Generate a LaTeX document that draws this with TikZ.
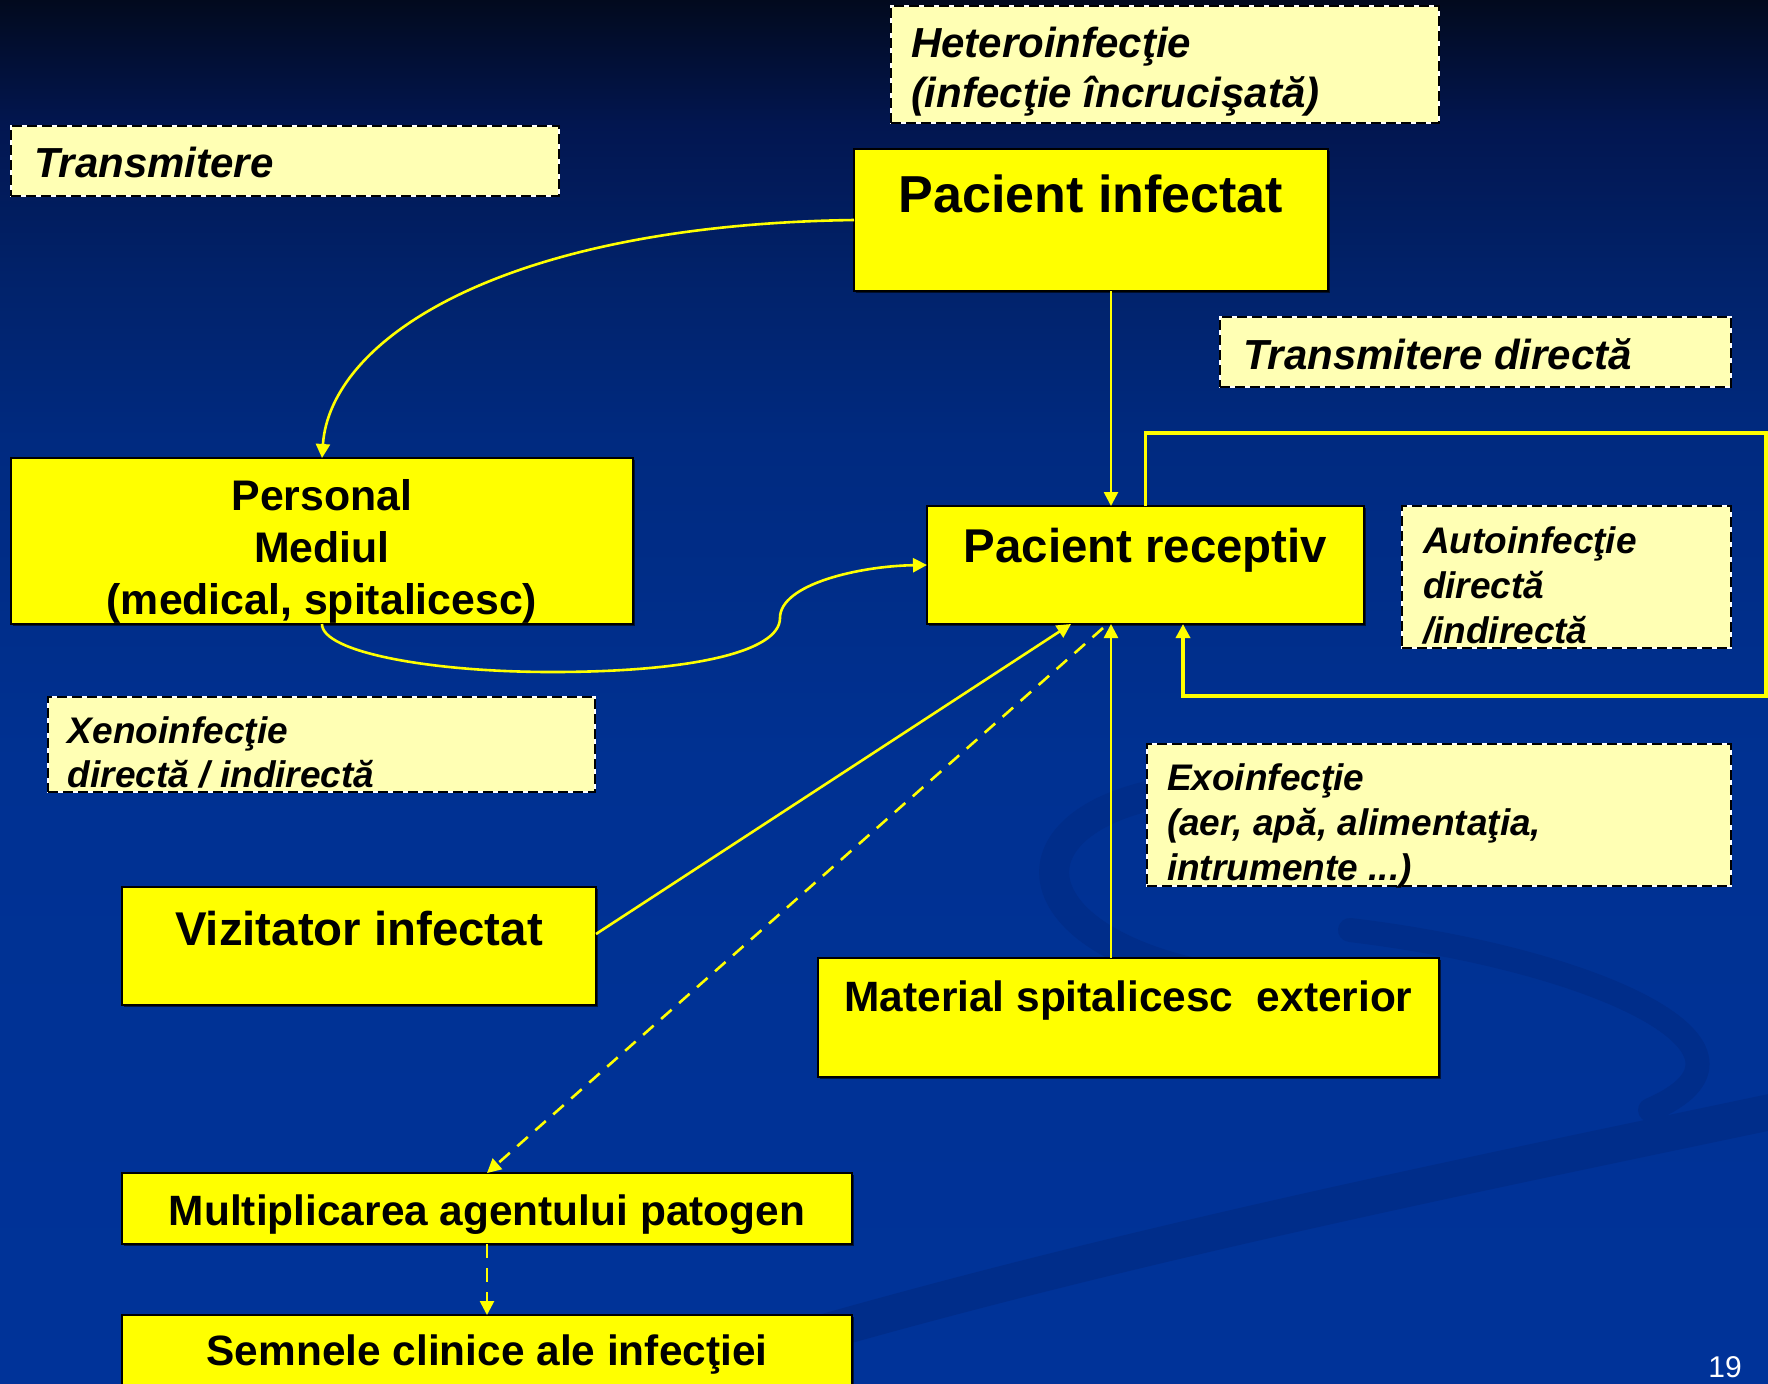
\documentclass[tikz,border=0pt]{standalone}
\usepackage{fontspec}
\setmainfont{Liberation Sans}
\usetikzlibrary{arrows.meta,shadows,calc}
\definecolor{yel}{HTML}{FFFF00}
\definecolor{paleyel}{HTML}{FFFFB4}
\definecolor{bgA}{HTML}{003399}
\definecolor{bgB}{HTML}{003192}
\definecolor{bgC}{HTML}{002A80}
\definecolor{bgD}{HTML}{01226A}
\definecolor{bgE}{HTML}{021650}
\definecolor{bgF}{HTML}{020A1E}
\definecolor{swirlc}{HTML}{002D8A}
% path bounding box maps onto 25bp..75bp of the declared shading
\pgfdeclareverticalshading{bgshade}{100bp}{color(0bp)=(bgA); color(25bp)=(bgA); color(47.5bp)=(bgB); color(59bp)=(bgC); color(65bp)=(bgD); color(70.5bp)=(bgE); color(75bp)=(bgF); color(100bp)=(bgF)}
\newcommand\lefttab[1]{\begin{tabular}[t]{@{}l@{}}#1\end{tabular}}
\newcommand\centtab[1]{\begin{tabular}[t]{@{}c@{}}#1\end{tabular}}
\begin{document}
\begin{tikzpicture}[x=0.5pt,y=-0.5pt,
  ybox/.style={draw=black, line width=1.2pt, fill=yel, inner sep=0pt, outer sep=0pt,
    drop shadow={shadow xshift=1.2pt, shadow yshift=-1.2pt, opacity=0.6, fill=black}},
  lbox/.style={fill=paleyel, draw=white, line width=1pt, inner sep=0pt, outer sep=0pt,
    postaction={draw=black, line width=1pt, dash pattern=on 5pt off 2.5pt}},
  txt/.style={inner sep=0pt, outer sep=0pt, text=black},
  lab/.style={txt, font=\bfseries\itshape},
  conn/.style={draw=yel, line width=1.3pt, -{Triangle[length=7pt,width=7pt]}},
  dconn/.style={conn, dash pattern=on 7pt off 5pt},
  swirl/.style={draw=swirlc, line cap=round}]
\useasboundingbox (0,0) rectangle (1768,1383);
\begin{scope}
\clip (0,0) rectangle (1768,1383);
\shade[shading=bgshade] (0,0) rectangle (1768,1383);
% background swirls
\draw[swirl, line width=15pt] (1180,790) .. controls (1000,815) and (1010,945) .. (1230,980);
\draw[swirl, line width=12pt] (1350,930) .. controls (1600,960) and (1790,1050) .. (1650,1110);
\draw[swirl, line width=18pt] (600,1400) .. controls (1000,1270) and (1400,1190) .. (1780,1110);

% label boxes
\node[lbox, minimum width=274pt, minimum height=58.5pt] (hetero) at (1165,64.5) {};
\node[lbox, minimum width=274pt, minimum height=35pt] (trans) at (285,161) {};
\node[lbox, minimum width=255.5pt, minimum height=35pt] (tdir) at (1475.5,352) {};
\node[lbox, minimum width=164.5pt, minimum height=71pt] (auto) at (1566.5,577) {};
\node[lbox, minimum width=273.5pt, minimum height=47.5pt] (xeno) at (321.5,744.5) {};
\node[lbox, minimum width=292pt, minimum height=71pt] (exo) at (1439,815) {};

% main boxes
\node[ybox, minimum width=237pt, minimum height=71pt] (pinf) at (1091,220) {};
\node[ybox, minimum width=311pt, minimum height=83pt] (pers) at (322,541) {};
\node[ybox, minimum width=218.5pt, minimum height=59pt] (prec) at (1145.5,565) {};
\node[ybox, minimum width=237pt, minimum height=59pt] (viz) at (359,946) {};
\node[ybox, minimum width=310.5pt, minimum height=59.5pt] (mat) at (1128.5,1017.5) {};
\node[ybox, minimum width=365pt, minimum height=35.5pt] (mult) at (487,1208.5) {};
\node[ybox, minimum width=365pt, minimum height=45pt] (semn) at (487,1360) {};

% texts
\node[lab, anchor=base west] (heterot) at (911,57) {\fontsize{21}{25}\selectfont\lefttab{Heteroinfecţie\\(infecţie încrucişată)}};
\node[lab, anchor=base west] (transt) at (34,177) {\fontsize{21}{25}\selectfont Transmitere};
\node[lab, anchor=base west] (tdirt) at (1243,369) {\fontsize{21}{25}\selectfont Transmitere directă};
\node[lab, anchor=base west] (autot) at (1423,553) {\fontsize{18.5}{22.5}\selectfont\lefttab{Autoinfecţie\\directă\\/indirectă}};
\node[lab, anchor=base west] (xenot) at (68,743) {\fontsize{18.5}{22}\selectfont\lefttab{Xenoinfecţie\\directă / indirectă}};
\node[lab, anchor=base west] (exot) at (1167,790) {\fontsize{18.5}{22.5}\selectfont\lefttab{Exoinfecţie\\(aer, apă, alimentaţia,\\intrumente ...)}};

\node[txt, anchor=base, font=\bfseries] (pinft) at (1091,212) {\fontsize{26}{30}\selectfont Pacient infectat};
\node[txt, anchor=base, font=\bfseries] (perst) at (322,510) {\fontsize{21.4}{26}\selectfont\centtab{Personal\\Mediul\\(medical, spitalicesc)}};
\node[txt, anchor=base, font=\bfseries] (prect) at (1145.5,562) {\fontsize{23.7}{28}\selectfont Pacient receptiv};
\node[txt, anchor=base, font=\bfseries] (vizt) at (359,945) {\fontsize{23.7}{28}\selectfont Vizitator infectat};
\node[txt, anchor=base, font=\bfseries] (matt) at (1128.5,1011) {\fontsize{21.2}{25}\selectfont Material spitalicesc\ \ exterior};
\node[txt, anchor=base, font=\bfseries] (multt) at (487,1225) {\fontsize{21.2}{25}\selectfont Multiplicarea agentului patogen};
\node[txt, anchor=base, font=\bfseries] (semnt) at (487,1365) {\fontsize{21.2}{25}\selectfont Semnele clinice ale infecţiei};

\node[inner sep=0pt, anchor=base, text=white] (pg) at (1725,1377) {\fontsize{15}{18}\selectfont 19};

% connectors
\coordinate (vx) at (1111,0);
\coordinate (ax) at (1071,0);
\coordinate (dx) at (1103,0);
\coordinate (rx) at (1766,0);
\coordinate (bx) at (1183,0);
\coordinate (ty) at (0,433);
\coordinate (by) at (0,696);
\draw[conn] (pinf.south -| vx) -- (prec.north -| vx);
\draw[conn] (mat.north -| vx) -- (prec.south -| vx);
\draw[conn] (pinf.west) .. controls (500,225) and (330,340) .. (pers.north);
\draw[conn] (pers.south) .. controls (322,652) and (430,672) .. (552,672)
   .. controls (690,672) and (780,652) .. (780,618)
   .. controls (780,584) and (860,566) .. (prec.west);
\draw[conn] ($(viz.east)+(0,-12)$) -- (prec.south -| ax);
\draw[dconn] ($(prec.south -| dx)+(0,4)$) -- (mult.north);
\draw[conn, line width=1.7pt] (prec.north) |- (rx |- ty) |- (bx |- by) -- (prec.south -| bx);
\draw[dconn] (mult.south) -- (semn.north);
\end{scope}
\end{tikzpicture}
\end{document}
